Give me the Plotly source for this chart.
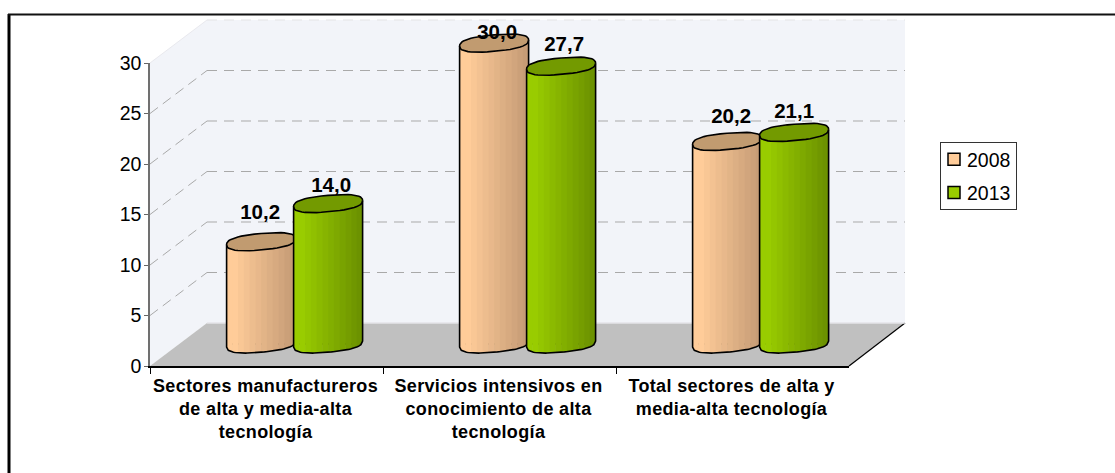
import numpy as np
import plotly.graph_objects as go

CATEGORIES = ["Sectores manufactureros<br>de alta y media-alta<br>tecnología",
              "Servicios intensivos en<br>conocimiento de alta<br>tecnología",
              "Total sectores de alta y<br>media-alta tecnología"]
SERIES_2008 = [10.2, 30.0, 20.2]
SERIES_2013 = [14.0, 27.7, 21.1]
YEARS = ["2008", "2013"]
Y_TICKS = [0, 5, 10, 15, 20, 25, 30]

W, H = 1115, 473
X0, X3, Y0, Y30 = 150, 849, 366, 63      # px of the front axes
UX = (X3 - X0) / 3
UY = (Y0 - Y30) / 30
DEPTH_X, DEPTH_Y = 57, 43


def fx(px):
    return -0.5 + (np.asarray(px, float) - X0) / UX


def fy(py):
    return (Y0 - np.asarray(py, float)) / UY


def shape_path(pts):
    return "M" + "L".join(f"{float(fx(a))},{float(fy(b))}" for a, b in pts) + "Z"


def line(x0, y0, x1, y1, color, dash=None, w=1):
    return dict(type="line", xref="x", yref="y", layer="below",
                x0=float(fx(x0)), y0=float(fy(y0)), x1=float(fx(x1)), y1=float(fy(y1)),
                line=dict(color=color, width=w, dash=dash))


WALL = "#F2F4F9"
FLOOR = "#C0C0C0"
shapes = [
    dict(type="path", xref="x", yref="y", layer="below", line_width=0, fillcolor=WALL,
         path=shape_path([(X0, Y30), (X0 + DEPTH_X, Y30 - DEPTH_Y), (905, Y30 - DEPTH_Y),
                          (905, Y0 - DEPTH_Y), (X0 + DEPTH_X, Y0 - DEPTH_Y), (X0, Y0)])),
    dict(type="path", xref="x", yref="y", layer="below", line_width=0, fillcolor=FLOOR,
         path=shape_path([(X0, Y0), (X3, Y0), (905, Y0 - DEPTH_Y), (X0 + DEPTH_X, Y0 - DEPTH_Y)])),
    line(X3, Y0, 905, Y0 - DEPTH_Y, "#000000", None, 1.2),
    line(X0 + DEPTH_X, Y0 - DEPTH_Y, 905, Y0 - DEPTH_Y, "#E4E4E8", None, 1.5),
]
for t in Y_TICKS[1:]:
    py = Y0 - t * UY
    col = "#E3E3E6" if t == 30 else "#A9A9A9"
    shapes.append(line(X0 + DEPTH_X, py - DEPTH_Y, 905, py - DEPTH_Y, col, "10px,7px"))
    if t < 30:
        shapes.append(line(X0, py, X0 + DEPTH_X, py - DEPTH_Y, col, "10px,6px"))
shapes.append(line(X0, Y30, X0 + DEPTH_X, Y30 - DEPTH_Y, "#E9E9EE", None, 1))
shapes.append(dict(type="line", xref="paper", yref="paper", x0=9 / W, x1=9 / W, y0=0, y1=1 - 14 / H,
                   line=dict(color="#000000", width=3)))
shapes.append(dict(type="line", xref="paper", yref="paper", x0=8 / W, x1=1, y0=1 - 14.5 / H, y1=1 - 14.5 / H,
                   line=dict(color="#111111", width=2)))

BASE_PY = 344
BAR_SCALE = 0.993
A, B, S, P = 34.5, 8.2, 3.0, 2.5
STEP = 67
GROUP_C = [X0 + UX * (i + 0.5) + DEPTH_X / 2 - 0.4 for i in range(3)]

LIGHT = [np.array([255, 204, 153]), np.array([153, 204, 0])]
DARK = [np.array([198, 156, 118]), np.array([108, 146, 0])]
CAP = ["#C19B70", "#739A00"]
STRIPES = 12

LABEL_UP = [[28, 9, 24], [17, 20, 20]]
LABEL_DX = [[-1, 3, 4], [3, 3, 0]]


def rgb(c):
    return f"rgb({int(c[0])},{int(c[1])},{int(c[2])})"


def front_at(cx, cy, xs):
    c = np.clip(np.abs(xs - cx) / A, 0, 1)
    signed = np.clip((xs - cx) / A, -1, 1)
    return cy + B * (1 - c ** P) ** (1 / P) - S * signed


def cap_outline(cx, cy, n=49):
    t = np.linspace(0, 2 * np.pi, n)
    cc, ss = np.cos(t), np.sin(t)
    xn = np.sign(cc) * np.abs(cc) ** (2 / P)
    yn = np.sign(ss) * np.abs(ss) ** (2 / P)
    return cx + A * xn, cy + B * yn - S * xn


traces = []
labels_x, labels_y, labels_t = [], [], []
for g in range(3):
    for s, vals in enumerate([SERIES_2008, SERIES_2013]):
        cx = GROUP_C[g] + (s - 0.5) * STEP
        top = BASE_PY - vals[g] * UY * BAR_SCALE
        edges = np.linspace(cx - A, cx + A, STRIPES + 1)
        for i in range(STRIPES):
            frac = max(0.0, (i - 1) / (STRIPES - 2))
            col = LIGHT[s] + (DARK[s] - LIGHT[s]) * frac
            xs = np.linspace(edges[i], min(edges[i + 1] + 0.5, cx + A), 6)
            xp = np.concatenate([xs, xs[::-1]])
            yp = np.concatenate([front_at(cx, top, xs), front_at(cx, BASE_PY, xs)[::-1]])
            traces.append(go.Scatter(x=fx(xp), y=fy(yp), mode="lines", fill="toself",
                                     fillcolor=rgb(col), line=dict(width=0),
                                     hoverinfo="skip", showlegend=False))
        xb = np.linspace(cx - A, cx + A, 41)
        xo = np.concatenate([[cx - A], xb, [cx + A]])
        yo = np.concatenate([[top + S], front_at(cx, BASE_PY, xb), [top - S]])
        traces.append(go.Scatter(x=fx(xo), y=fy(yo), mode="lines",
                                 line=dict(color="#000000", width=1.6),
                                 hoverinfo="skip", showlegend=False))
        capx, capy = cap_outline(cx, top)
        traces.append(go.Scatter(x=fx(capx), y=fy(capy), mode="lines", fill="toself",
                                 fillcolor=CAP[s], line=dict(color="#000000", width=1.6),
                                 hoverinfo="skip", showlegend=False))
        labels_x.append(float(fx(cx + LABEL_DX[s][g])))
        labels_y.append(float(fy(top - LABEL_UP[s][g])))
        labels_t.append(f"{vals[g]:.1f}".replace(".", ","))

bars = []
for s, vals in enumerate([SERIES_2008, SERIES_2013]):
    centres = [GROUP_C[g] + (s - 0.5) * STEP for g in range(3)]
    bars.append(go.Bar(x=fx(centres), y=[v * BAR_SCALE for v in vals], base=float(fy(BASE_PY)),
                       width=60 / UX, name=YEARS[s], legendgroup=YEARS[s],
                       marker=dict(color=rgb(LIGHT[s]), line=dict(color="#000000", width=1.5)),
                       hoverinfo="skip"))

label_trace = go.Scatter(x=labels_x, y=labels_y, text=labels_t, mode="text", textposition="middle center",
                         textfont=dict(family="Liberation Sans", size=20.5, color="#000000", weight=700),
                         hoverinfo="skip", showlegend=False)

axes_trace = go.Scatter(x=CATEGORIES, y=SERIES_2008, mode="none", xaxis="x2", yaxis="y2",
                        hoverinfo="skip", showlegend=False)

fig = go.Figure(bars + traces + [label_trace, axes_trace])

fig.update_layout(
    width=W, height=H, autosize=False,
    margin=dict(l=0, r=0, t=0, b=0, autoexpand=False),
    paper_bgcolor="#FFFFFF", plot_bgcolor="rgba(0,0,0,0)",
    font=dict(family="Liberation Sans", color="#000000"),
    barmode="overlay",
    shapes=shapes,
    xaxis=dict(domain=[0, 1], range=[float(fx(0)), float(fx(W))], visible=False, fixedrange=True),
    yaxis=dict(domain=[0, 1], range=[float(fy(H)), float(fy(0))], visible=False, fixedrange=True),
    xaxis2=dict(domain=[X0 / W, X3 / W], type="category", categoryorder="array", categoryarray=CATEGORIES,
                range=[-0.5, 2.5], anchor="y2", tickson="boundaries", ticks="outside", ticklen=6,
                tickcolor="#000000", showline=True, linecolor="#000000", linewidth=2, showgrid=False,
                tickangle=0, ticklabelstandoff=2, ticklabelshift=-1,
                tickfont=dict(family="Liberation Sans", size=18, weight=700, color="#000000"),
                fixedrange=True),
    yaxis2=dict(domain=[(H - Y0) / H, (H - Y30) / H], range=[0, 30], anchor="x2", tickvals=Y_TICKS,
                ticks="outside", ticklen=4, ticklabelstandoff=-1, tickcolor="#666666", showline=True,
                linecolor="#707070", linewidth=1.5, showgrid=False, zeroline=False,
                tickfont=dict(family="Liberation Sans", size=19.5, color="#000000"), fixedrange=True),
    showlegend=True,
    legend=dict(x=940 / W, y=1 - 142 / H, xanchor="left", yanchor="top", bgcolor="#FFFFFF",
                bordercolor="#333333", borderwidth=1, font=dict(family="Liberation Sans", size=19.5),
                traceorder="grouped", tracegroupgap=5, itemwidth=30),
)

POST = """
document.querySelectorAll('.x2tick text, .x2tick tspan').forEach(function(e){e.style.letterSpacing='0.35px';});
document.querySelectorAll('.legend .legendtext').forEach(function(e){e.setAttribute('x','26');});
document.querySelectorAll('.legend .legendsymbols').forEach(function(e){e.setAttribute('transform','translate(-7,0)');});
document.querySelectorAll('.legend .bg').forEach(function(e){e.setAttribute('width','76');e.setAttribute('height','67');});
document.querySelectorAll('.legend .scrollbox').forEach(function(e){e.setAttribute('transform','translate(0,-3)');});
document.body.style.margin='0';
"""
fig.write_html("out.html", post_script=POST, config={"displayModeBar": False})
